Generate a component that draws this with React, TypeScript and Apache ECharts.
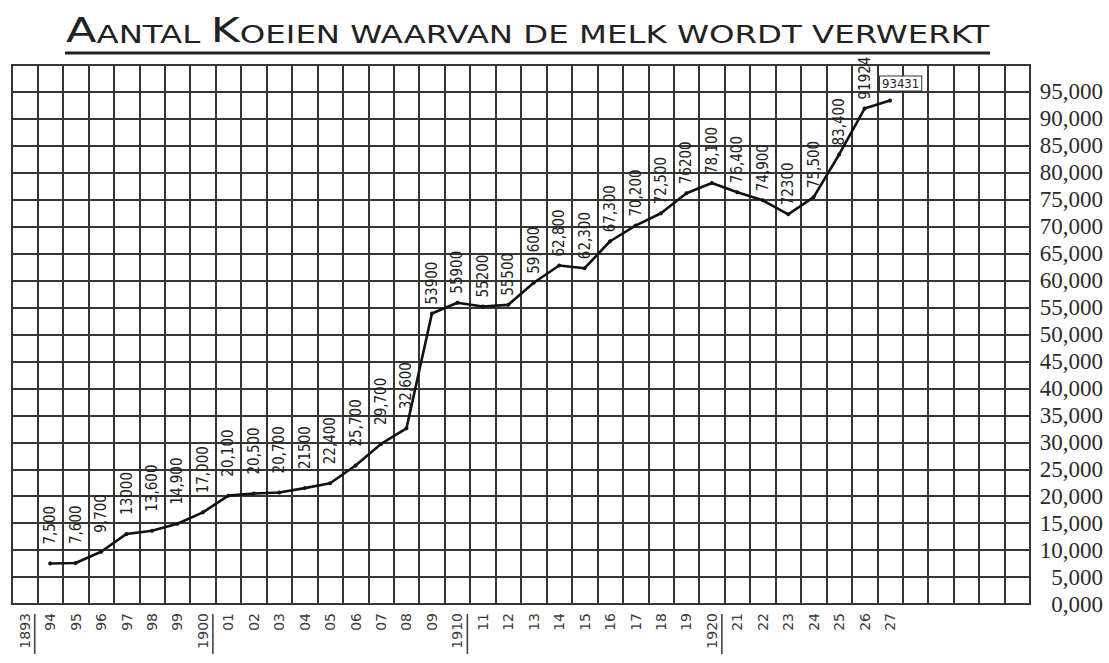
import React, { useEffect, useRef } from "react";
import * as echarts from "echarts";

// Years (columns) — 1893 … 1927 plus empty columns to the right
const years = [
  "1893", "94", "95", "96", "97", "98", "99",
  "1900", "01", "02", "03", "04", "05", "06", "07", "08", "09",
  "1910", "11", "12", "13", "14", "15", "16", "17", "18", "19",
  "1920", "21", "22", "23", "24", "25", "26", "27",
  "", "", "", "", "",
];

// Number of cows whose milk is processed (null = no value for 1893)
const cows = [
  null, 7500, 7600, 9700, 13000, 13600, 14900,
  17000, 20100, 20500, 20700, 21500, 22400, 25700, 29700, 32600, 53900,
  55900, 55200, 55500, 59600, 62800, 62300, 67300, 70200, 72500, 76200,
  78100, 76400, 74900, 72300, 75500, 83400, 91924, 93431,
];

// Value labels as written on the chart
const valueLabels = [
  "", "7,500", "7,600", "9,700", "13000", "13,600", "14,900",
  "17,000", "20,100", "20,500", "20,700", "21500", "22,400", "25,700", "29,700", "32,600", "53900",
  "55900", "55200", "55500", "59,600", "62,800", "62,300", "67,300", "70,200", "72,500", "76200",
  "78,100", "76,400", "74,900", "72300", "75,500", "83,400", "91924", "93431",
];

// Right-hand axis tick labels (0 … 95,000; the top border at 100,000 is unlabelled)
const yTickLabels = [
  "0,000", "5,000", "10,000", "15,000", "20,000", "25,000", "30,000", "35,000",
  "40,000", "45,000", "50,000", "55,000", "60,000", "65,000", "70,000", "75,000",
  "80,000", "85,000", "90,000", "95,000", "",
];

// Decade years that are underlined on the axis
const underlinedYears = ["1893", "1900", "1910", "1920"];

const TITLE = "{a|A}{b|ANTAL }{a|K}{b|OEIEN WAARVAN DE MELK WORDT VERWERKT}";

export default function App() {
  const ref = useRef<HTMLDivElement>(null);

  useEffect(() => {
    if (!ref.current) return;
    const chart = echarts.init(ref.current, null, { renderer: "svg" });
    const gridColor = "#353535";

    const lineData = cows.map((v, i) => {
      if (v == null) return null;
      const item: any = {
        value: v,
        label: { formatter: valueLabels[i], distance: i < 16 ? 17 : 7 },
      };
      if (i === cows.length - 1) {
        item.label = {
          formatter: valueLabels[i],
          rotate: 0,
          position: "top",
          distance: 8,
          align: "left",
          verticalAlign: "bottom",
          offset: [-10, 0],
          backgroundColor: "#fff",
          borderColor: "#333",
          borderWidth: 1,
          padding: [1, 2, 0, 2],
          fontSize: 13,
        };
      }
      return item;
    });

    const underlineData = underlinedYears.map((y) => [years.indexOf(y), 0]);

    chart.setOption({
      animation: false,
      backgroundColor: "#ffffff",
      graphic: [
        {
          type: "text",
          x: 66,
          y: 11,
          scaleX: 1.35,
          style: {
            text: TITLE,
            fill: "#222",
            rich: {
              a: { fontFamily: "DejaVu Sans", fontSize: 33, verticalAlign: "bottom", lineHeight: 36, fill: "#222" },
              b: { fontFamily: "DejaVu Sans", fontSize: 24, verticalAlign: "bottom", lineHeight: 36, fill: "#222" },
            },
          },
        },
        {
          type: "line",
          shape: { x1: 65, y1: 53, x2: 990, y2: 53 },
          style: { stroke: "#222", lineWidth: 3 },
        },
      ],
      grid: {
        left: 12,
        right: 79,
        top: 65,
        bottom: 59,
        show: true,
        borderColor: gridColor,
        borderWidth: 2,
        backgroundColor: "transparent",
      },
      xAxis: {
        type: "category",
        data: years,
        boundaryGap: true,
        axisLine: { show: false },
        axisTick: { show: false },
        splitLine: { show: true, interval: 0, lineStyle: { color: gridColor, width: 2 } },
        axisLabel: {
          interval: 0,
          rotate: 90,
          margin: 9,
          fontFamily: "DejaVu Sans",
          fontSize: 14,
          color: "#3a3a3a",
        },
      },
      yAxis: {
        type: "value",
        position: "right",
        min: 0,
        max: 100000,
        interval: 5000,
        axisLine: { show: false },
        axisTick: { show: false },
        splitLine: { show: true, lineStyle: { color: gridColor, width: 2 } },
        axisLabel: {
          margin: 73,
          align: "right",
          fontFamily: "Liberation Serif",
          fontSize: 23,
          color: "#2a2a2a",
          padding: [0, 0, 8, 0],
          formatter: (_v: number, idx: number) => yTickLabels[idx] ?? "",
        },
      },
      series: [
        {
          type: "line",
          data: lineData,
          connectNulls: false,
          symbol: "circle",
          symbolSize: 4,
          itemStyle: { color: "#111" },
          lineStyle: { color: "#111", width: 2.6 },
          z: 5,
          label: {
            show: true,
            position: "top",
            distance: 12,
            rotate: 90,
            align: "left",
            verticalAlign: "middle",
            fontFamily: "DejaVu Sans Condensed, DejaVu Sans",
            fontSize: 15,
            color: "#222",
          },
        },
        {
          type: "custom",
          data: underlineData,
          encode: { x: 0, y: 1 },
          silent: true,
          z: 10,
          renderItem: (_params: any, api: any) => {
            const p = api.coord([api.value(0), 0]);
            return {
              type: "line",
              shape: { x1: p[0] + 10, y1: p[1] + 10, x2: p[0] + 10, y2: p[1] + 50 },
              style: { stroke: "#444", lineWidth: 1.6 },
            };
          },
        },
      ],
    });

    return () => chart.dispose();
  }, []);

  return (
    <div
      ref={ref}
      style={{ position: "absolute", left: 0, top: 0, width: 1109, height: 663 }}
    />
  );
}
